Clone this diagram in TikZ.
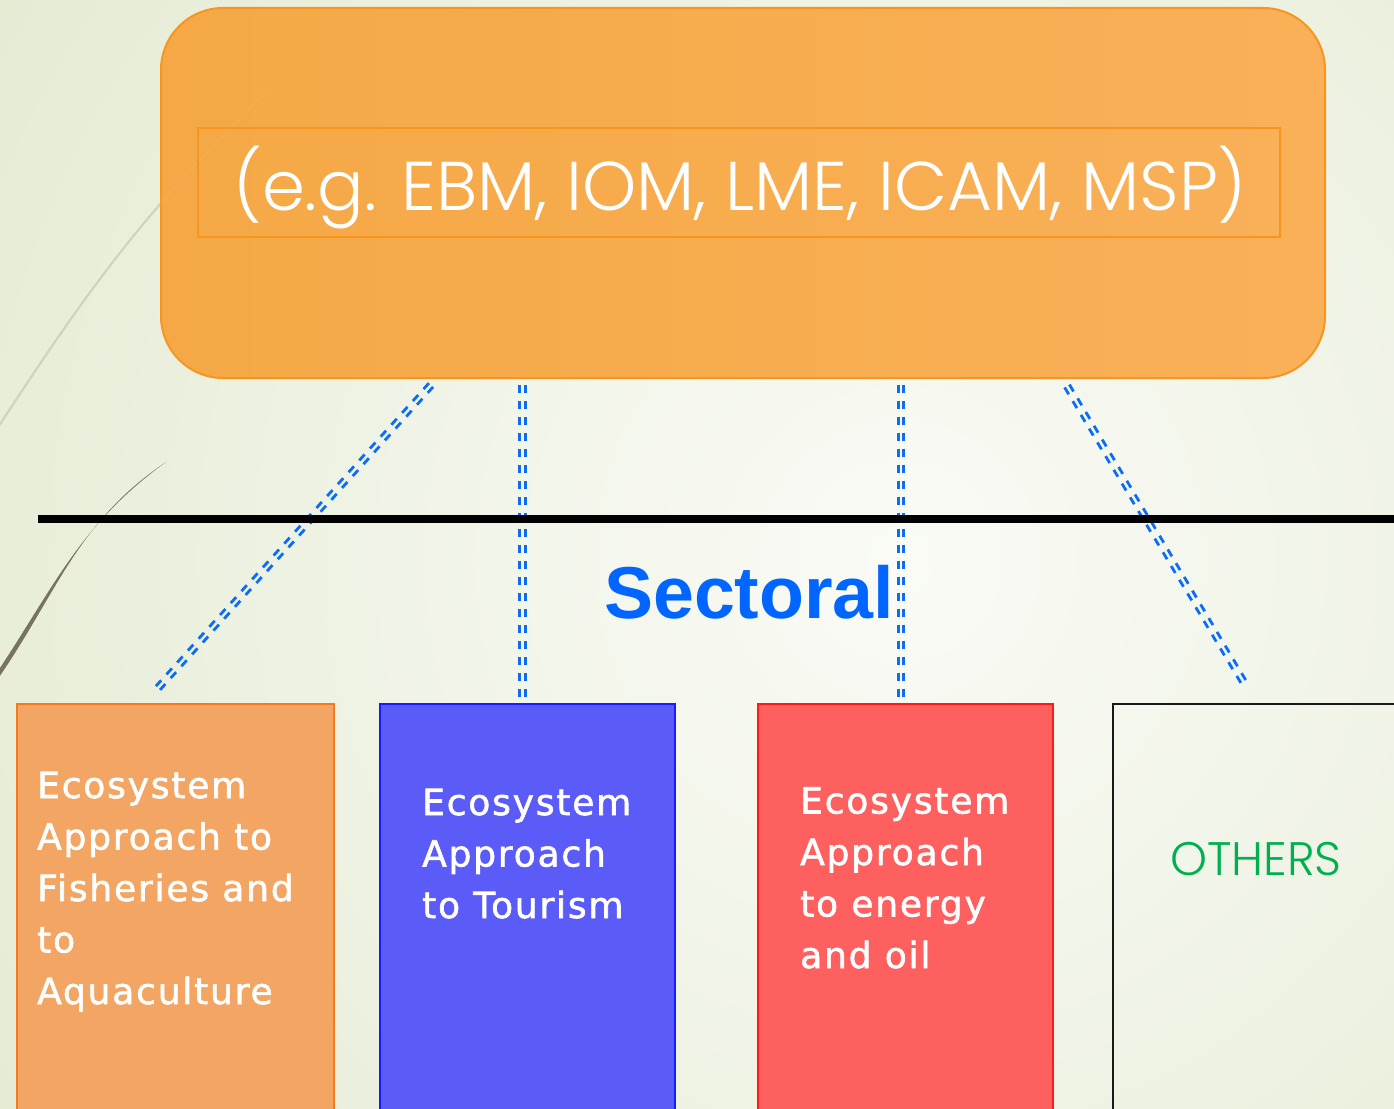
\documentclass[tikz,border=0pt]{standalone}
\usepackage{fontspec}
\setmainfont{DejaVu Sans}
\newfontfamily\boxfont{DejaVu Sans}[LetterSpace=5, FakeBold=1.6]
\newfontfamily\thinfont{Poppins Light}
\newfontfamily\headfont{Liberation Sans}
\usetikzlibrary{calc}

\definecolor{bgouter}{HTML}{DCE5C6}
\definecolor{bginner}{HTML}{FAFBF6}
\definecolor{umbrellaL}{HTML}{F5A845}
\definecolor{umbrellaR}{HTML}{F9B058}
\definecolor{umbrellaRim}{HTML}{F7951F}
\definecolor{fishFill}{HTML}{F3A663}
\definecolor{fishRim}{HTML}{F47A20}
\definecolor{tourFill}{HTML}{5B5CF7}
\definecolor{tourRim}{HTML}{1A1AFF}
\definecolor{oilFill}{HTML}{FE6060}
\definecolor{oilRim}{HTML}{FF1A1A}
\definecolor{linkblue}{HTML}{0A6CF7}
\definecolor{sectorblue}{HTML}{0066FF}
\definecolor{othersgreen}{HTML}{00B050}
\definecolor{faintstem}{HTML}{CDD3BD}
\definecolor{darkstem}{HTML}{787262}

\tikzset{
  sectorbox/.style={draw, line width=2, inner sep=0, anchor=north west,
                    minimum height=440},
  boxtext/.style={text=white, font=\boxfont\fontsize{36}{51.5}\selectfont,
                  align=left, inner sep=0, anchor=base west},
  link/.style={draw=linkblue, line width=2.8, dash pattern=on 8pt off 8pt},
}
% a pair of parallel dashed strokes between two named points
\newcommand\twinlink[2]{%
  \draw[link] ($(#1)!2.8pt!90:(#2)$) -- ($(#2)!2.8pt!-90:(#1)$);
  \draw[link] ($(#1)!2.8pt!-90:(#2)$) -- ($(#2)!2.8pt!90:(#1)$);
}

\begin{document}
\begin{tikzpicture}[x=1pt,y=-1pt]
\useasboundingbox (0,0) rectangle (1394,1108);
\clip (0,0) rectangle (1394,1108);

% backdrop
\fill[bgouter] (0,0) rectangle (1394,1108);
\shade[inner color=bginner, outer color=bgouter] (900,560) circle (1500);

% decorative stems
\draw[faintstem, line width=2] (-20,455) to[out=57,in=224] (265,94);
\fill[darkstem] (-8,680) to[out=56,in=216] (166,462)
                to[out=214,in=55] (-5,683) -- cycle;

% umbrella box
\node[draw=umbrellaRim, line width=2, left color=umbrellaL, right color=umbrellaR,
      rounded corners=62, inner sep=0, anchor=north west,
      minimum width=1164, minimum height=370] (umbrella) at (160,7) {};
\draw[faintstem, line width=2, opacity=0.12] (-20,455) to[out=57,in=224] (265,94);
\node[draw=umbrellaRim, line width=2, inner sep=0, anchor=north west,
      minimum width=1082, minimum height=109] (examples) at (197,127) {};
\node[text=white, inner sep=0, anchor=base, font=\thinfont\fontsize{69}{76}\selectfont]
      (examplestext) at (740,210) {(e.g. EBM, IOM, LME, ICAM, MSP)};

% sector boxes
\node[sectorbox, draw=fishRim, fill=fishFill, minimum width=317] (fish) at (16,703) {};
\node[sectorbox, draw=tourRim, fill=tourFill, minimum width=295] (tour) at (379,703) {};
\node[sectorbox, draw=oilRim, fill=oilFill, minimum width=295] (oil) at (757,703) {};
\node[sectorbox, draw=black!90, minimum width=320] (others) at (1112,703) {};

% texts are anchored on the baseline of their last line
\node[boxtext] (fishtext) at (37,1004) {Ecosystem\\Approach to\\Fisheries and\\to\\Aquaculture};
\node[boxtext] (tourtext) at (422,918) {Ecosystem\\Approach\\to Tourism};
\node[boxtext] (oiltext) at (800,968) {Ecosystem\\Approach\\to energy\\and oil};
\node[text=othersgreen, inner sep=0, anchor=base, font=\thinfont\fontsize{47}{54}\selectfont]
      (otherstext) at (1256,875) {OTHERS};

% sector heading
\node[text=sectorblue, inner sep=0, anchor=base west,
      font=\headfont\bfseries\fontsize{73.5}{80}\selectfont] (sectoral) at (604,618) {Sectoral};

% connectors from the umbrella to each sector
\coordinate (fromA) at (431,385);  \coordinate (toA) at (158,688);
\coordinate (fromB) at (522.5,385); \coordinate (toB) at (522.5,697);
\coordinate (fromC) at (901,385);  \coordinate (toC) at (901,697);
\coordinate (fromD) at (1067,386); \coordinate (toD) at (1246,686);
\twinlink{fromA}{toA}
\twinlink{fromB}{toB}
\twinlink{fromC}{toC}
\twinlink{fromD}{toD}

% divider
\coordinate (ruleL) at (38,519);
\coordinate (ruleR) at (1394,519);
\draw[line width=7.7] (ruleL) -- (ruleR);
\end{tikzpicture}
\end{document}
